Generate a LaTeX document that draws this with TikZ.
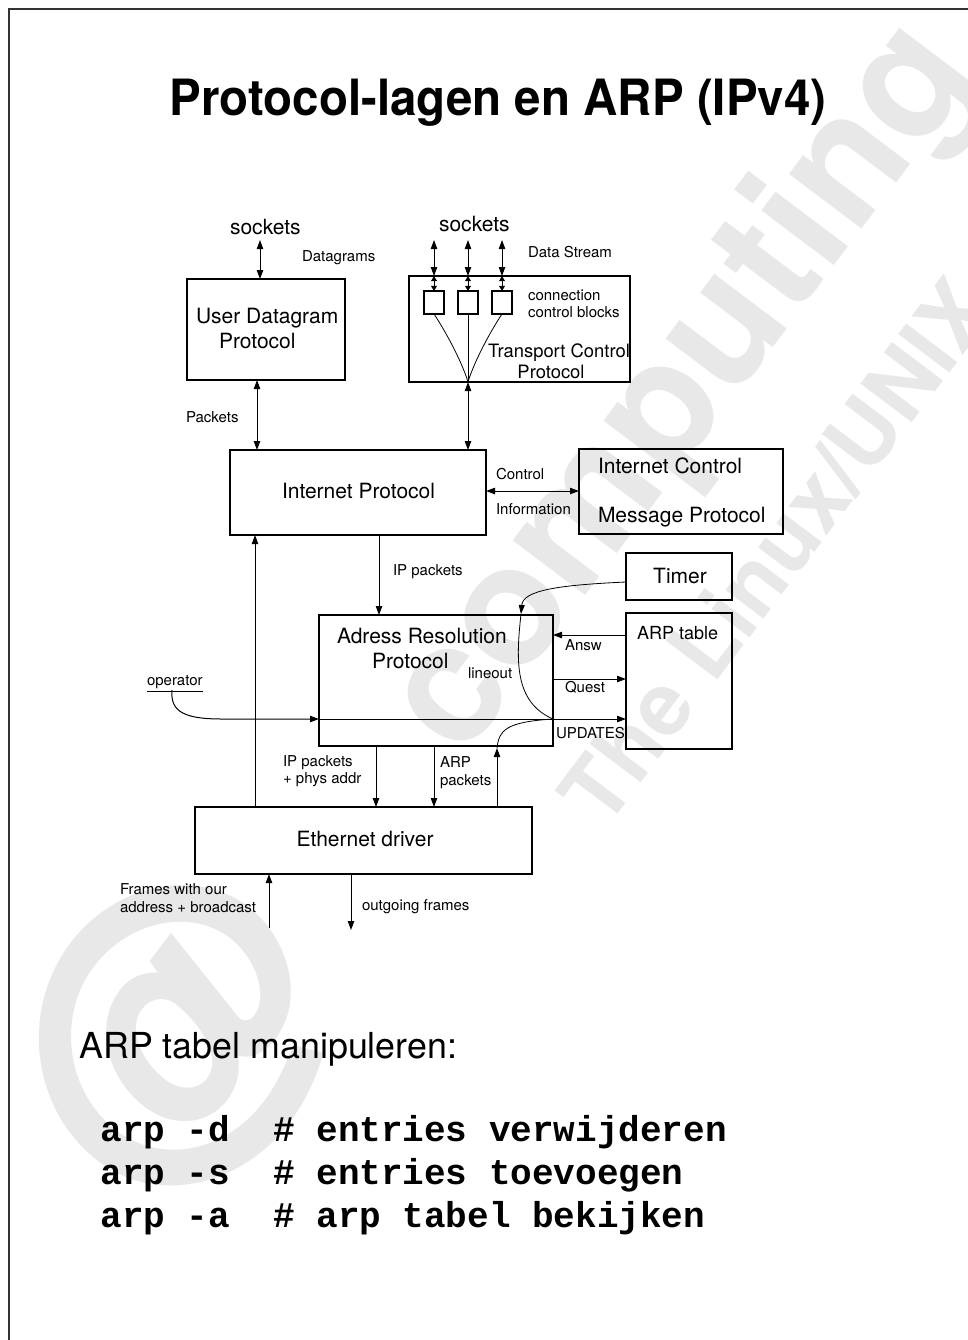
\documentclass[tikz,border=0pt]{standalone}
\usepackage{fontspec}
\setmainfont{TeX Gyre Heros}
\setmonofont{Liberation Mono}
\usetikzlibrary{arrows.meta}
\begin{document}
\begin{tikzpicture}[x=0.5pt,y=-0.5pt,
 box/.style={draw,line width=0.6pt,inner sep=0pt,outer sep=0pt,anchor=north west},
 lbl/.style={inner sep=0pt,outer sep=0pt,anchor=west,text height=5.4pt,text depth=0pt,font=\fontsize{7.5pt}{9pt}\selectfont},
 lblbig/.style={lbl,text height=7.6pt,font=\fontsize{10.5pt}{12pt}\selectfont},
 lblmid/.style={lbl,text height=6.6pt,font=\fontsize{9.2pt}{11pt}\selectfont},
 conn/.style={line width=0.5pt,-{Triangle[length=4.5pt,width=3.2pt]}},
 conntwo/.style={line width=0.5pt,{Triangle[length=4.5pt,width=3.2pt]}-{Triangle[length=4.5pt,width=3.2pt]}},
 smalltwo/.style={line width=0.5pt,{Triangle[length=2.6pt,width=3pt]}-{Triangle[length=2.6pt,width=3pt]}},
 curv/.style={line width=0.4pt},
 wm/.style={text=black!9,inner sep=0pt,outer sep=0pt,font=\bfseries}]
\useasboundingbox (0,0) rectangle (968,1340);
\clip (0,0) rectangle (968,1340);
\fill[white] (0,0) rectangle (968,1340);

% watermark
\node[wm,rotate=53,font=\fontsize{160pt}{160pt}\bfseries] (wmat) at (175,1040) {@};
\node[wm,rotate=53,anchor=base west,font=\fontsize{84pt}{84pt}\bfseries] (wmcomp) at (462,760) {computing};
\node[wm,rotate=53,anchor=base west,font=\fontsize{44pt}{44pt}\bfseries] (wmlinux) at (605,830) {The Linux/UNIX professionals};

% frame
\draw[line width=1pt,black!80] (9,1340) -- (9,9) -- (968,9);

% title
\node[inner sep=0pt,text height=18pt,text depth=0pt,font=\fontsize{25pt}{30pt}\bfseries] (title) at (498,97) {\scalebox{0.95}[1]{Protocol-lagen en ARP (IPv4)}};

% boxes
\node[box,minimum width=79pt,minimum height=50.5pt] (udp) at (187,279) {};
\node[box,minimum width=110.5pt,minimum height=53pt] (tcp) at (409,276) {};
\node[box,minimum width=10pt,minimum height=11.5pt] (cb1) at (424,291) {};
\node[box,minimum width=10pt,minimum height=11.5pt] (cb2) at (458,291) {};
\node[box,minimum width=10pt,minimum height=11.5pt] (cb3) at (492,291) {};
\node[box,minimum width=128pt,minimum height=42.5pt] (ip) at (230,450) {};
\node[box,minimum width=102pt,minimum height=42.5pt] (icmp) at (579,449) {};
\node[box,minimum width=117pt,minimum height=65.5pt] (arp) at (319,615) {};
\node[box,minimum width=53pt,minimum height=23.5pt] (timer) at (626,553) {};
\node[box,minimum width=53pt,minimum height=68pt] (arptab) at (626,613) {};
\node[box,minimum width=168.5pt,minimum height=33.5pt] (eth) at (195,807) {};

% texts
\node[lblbig] (sockL) at (230,227) {sockets};
\node[lbl] (dgr) at (302,256) {Datagrams};
\node[lblbig] (sockR) at (439,224) {sockets};
\node[lbl] (dst) at (528,252) {Data Stream};
\node[lbl] (ccb1) at (528,295) {connection};
\node[lbl] (ccb2) at (528,312) {control blocks};
\node[lblmid] (tcpt1) at (488,351) {Transport Control};
\node[lblmid,anchor=center] (tcpt2) at (551,372) {Protocol};
\node[lblbig] (udpt1) at (196,316) {User Datagram};
\node[lblbig] (udpt2) at (219,341) {Protocol};
\node[lbl] (pkts) at (186,417) {Packets};
\node[lblbig] (ipt) at (282,491) {Internet Protocol};
\node[lbl] (ctl) at (496,474) {Control};
\node[lbl] (inf) at (496,509) {Information};
\node[lblbig] (icmpt1) at (598,466) {Internet Control};
\node[lblbig] (icmpt2) at (598,515) {Message Protocol};
\node[lbl] (ippk) at (393,570) {IP packets};
\node[lblbig,anchor=center] (timert) at (680,576) {Timer};
\node[lblbig] (arpt1) at (337,636) {Adress Resolution};
\node[lblbig] (arpt2) at (372,661) {Protocol};
\node[lblmid,text height=6.5pt,font=\fontsize{9pt}{11pt}\selectfont] (tabt) at (637,633) {ARP table};
\node[lbl] (answ) at (565,645) {Answ};
\node[lbl] (quest) at (565,687) {Quest};
\node[lbl] (lineo) at (468,673) {lineout};
\node[lbl] (upd) at (556,733) {UPDATES};
\node[lbl] (op) at (147,680) {\underline{operator}};
\node[lbl] (ipp1) at (283,761) {IP packets};
\node[lbl] (ipp2) at (283,778) {+ phys addr};
\node[lbl] (arpp1) at (440,762) {ARP};
\node[lbl] (arpp2) at (440,780) {packets};
\node[lblbig,anchor=center] (etht) at (365,839) {Ethernet driver};
\node[lbl] (fr1) at (120,889) {Frames with our};
\node[lbl] (fr2) at (120,907) {address + broadcast};
\node[lbl] (outf) at (362,905) {outgoing frames};

\node[inner sep=0pt,anchor=west,text height=12.9pt,text depth=0pt,font=\fontsize{17.9pt}{21pt}\selectfont] (manip) at (79,1046) {ARP tabel manipuleren:};
\node[inner sep=0pt,anchor=base west,font=\ttfamily\bfseries\fontsize{18pt}{21pt}\selectfont] (cmd1) at (100,1141) {arp -d\ \ \# entries verwijderen};
\node[inner sep=0pt,anchor=base west,font=\ttfamily\bfseries\fontsize{18pt}{21pt}\selectfont] (cmd2) at (100,1184) {arp -s\ \ \# entries toevoegen};
\node[inner sep=0pt,anchor=base west,font=\ttfamily\bfseries\fontsize{18pt}{21pt}\selectfont] (cmd3) at (100,1227) {arp -a\ \ \# arp tabel bekijken};

% helper coordinates
\coordinate (ysk) at (0,240);
\coordinate (ysl) at (260,240);
\coordinate (xudp) at (257,0);
\coordinate (xipd) at (379,0);
\coordinate (xeth) at (255,0);
\coordinate (xd1) at (376,0);
\coordinate (xd2) at (434,0);
\coordinate (xu) at (497,0);
\coordinate (yic) at (0,491);
\coordinate (yan) at (0,635);
\coordinate (yqu) at (0,679);
\coordinate (yup) at (0,719);
\coordinate (ytm) at (0,582);
\coordinate (opst) at (172,690);
\coordinate (tl) at (521,614);
\coordinate (au) at (497,748);
\coordinate (fin) at (269,928);
\coordinate (fout) at (351,930);
\coordinate (jn) at (arp.east |- yup);

% socket arrows
\draw[conntwo] (ysl) -- (ysl |- udp.north);
\foreach \b in {cb1,cb2,cb3}{
  \draw[conntwo] (\b.north |- ysk) -- (\b.north |- tcp.north);
  \draw[smalltwo] (\b.north |- tcp.north) -- (\b.north);
}
% tcp internal lines
\draw[curv] (cb1.south) .. controls (446,332) and (462,362) .. (tcp.south -| cb2.south);
\draw[line width=0.5pt] (cb2.south) -- (tcp.south -| cb2.south);
\draw[curv] (cb3.south) .. controls (490,332) and (474,362) .. (tcp.south -| cb2.south);

% IP level
\draw[conntwo] (udp.south -| xudp) -- (ip.north -| xudp);
\draw[conntwo] (tcp.south -| cb2.south) -- (ip.north -| cb2.south);
\draw[conntwo] (ip.east |- yic) -- (icmp.west |- yic);
\draw[conn] (ip.south -| xipd) -- (arp.north -| xipd);
\draw[conn] (eth.north -| xeth) -- (ip.south -| xeth);

% ARP level
\draw[conn] (arptab.west |- yan) -- (arp.east |- yan);
\draw[conn] (arp.east |- yqu) -- (arptab.west |- yqu);
\draw[conn] (opst) .. controls (170,712) and (185,719) .. (222,719) -- (arp.west |- yup);
\draw[line width=0.5pt] (arp.west |- yup) -- (jn);
\draw[conn] (jn) -- (arptab.west |- yup);
\draw[curv,-{Triangle[length=4.5pt,width=3pt]}] (timer.west |- ytm) .. controls (560,585) and (523,590) .. (tl);
\draw[curv] (tl) .. controls (516,660) and (514,702) .. (jn);
\draw[conn] (eth.north -| xu) -- (au);
\draw[curv] (au) .. controls (499,730) and (506,722) .. (jn);
\draw[conn] (arp.south -| xd1) -- (eth.north -| xd1);
\draw[conn] (arp.south -| xd2) -- (eth.north -| xd2);

% ethernet level
\draw[conn] (fin) -- (eth.south -| fin);
\draw[conn] (eth.south -| fout) -- (fout);
\end{tikzpicture}
\end{document}
